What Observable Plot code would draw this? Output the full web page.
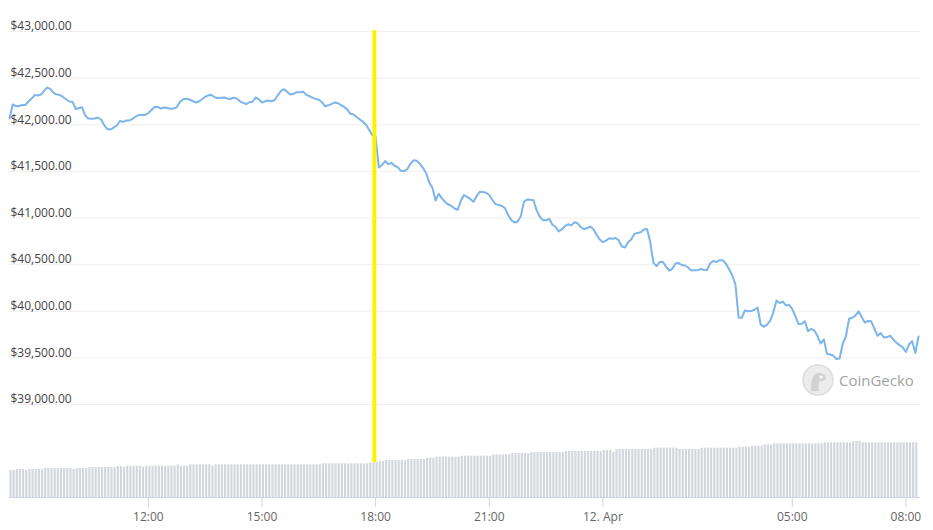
<!DOCTYPE html>
<html lang="en">
<head>
<meta charset="UTF-8">
<script src="https://cdn.jsdelivr.net/npm/d3@7"></script>
<script src="https://cdn.jsdelivr.net/npm/@observablehq/plot@0.6"></script>
<style>
  body { margin: 0; background: #fff; font-family: "Open Sans", sans-serif; }
  #chart { position: relative; width: 933px; height: 530px; overflow: hidden; }
  #chart svg { position: absolute; left: 0; top: 0; }
  #logo { position: absolute; left: 802px; top: 364px; display: flex; align-items: center; gap: 5px;
          font: 15px "Open Sans", sans-serif; color: #a3a3a3; }
</style>
</head>
<body>
<div id="chart"></div>
<script>
// 5-minute samples, 11 Apr 08:20 -> 12 Apr 08:20 (UTC used as display time)
const start = "2022-04-11T08:20Z";

const prices = [
  42067, 42217, 42201, 42201, 42212, 42212, 42249, 42281, 42319, 42314, 42324, 42367,
  42399, 42383, 42340, 42326, 42318, 42298, 42271, 42249, 42244, 42169, 42180, 42187,
  42099, 42067, 42064, 42067, 42078, 42056, 41997, 41954, 41949, 41970, 41992, 42040,
  42029, 42046, 42046, 42064, 42088, 42105, 42105, 42105, 42126, 42158, 42190, 42190,
  42174, 42185, 42180, 42171, 42174, 42190, 42244, 42274, 42278, 42271, 42255, 42239,
  42249, 42274, 42300, 42316, 42319, 42295, 42287, 42290, 42292, 42281, 42276, 42291,
  42281, 42251, 42235, 42222, 42242, 42247, 42294, 42273, 42239, 42251, 42259, 42251,
  42265, 42316, 42362, 42381, 42351, 42324, 42332, 42349, 42349, 42355, 42321, 42308,
  42291, 42277, 42268, 42244, 42198, 42209, 42221, 42239, 42233, 42210, 42192, 42165,
  42117, 42110, 42082, 42056, 42033, 41999, 41942, 41885, 41874, 41542, 41568, 41611,
  41576, 41592, 41560, 41545, 41506, 41502, 41523, 41579, 41619, 41615, 41582, 41538,
  41481, 41381, 41325, 41188, 41259, 41210, 41172, 41146, 41129, 41102, 41088, 41184,
  41246, 41227, 41205, 41175, 41234, 41282, 41280, 41271, 41246, 41193, 41149, 41140,
  41129, 41104, 41032, 40977, 40952, 40962, 41019, 41174, 41199, 41196, 41190, 41085,
  41013, 40977, 40976, 40991, 40928, 40906, 40856, 40877, 40914, 40933, 40921, 40955,
  40943, 40903, 40879, 40893, 40908, 40880, 40820, 40769, 40741, 40757, 40783, 40777,
  40786, 40761, 40695, 40683, 40740, 40772, 40830, 40840, 40847, 40876, 40883, 40743,
  40521, 40484, 40527, 40531, 40479, 40437, 40455, 40511, 40517, 40496, 40491, 40469,
  40437, 40441, 40441, 40453, 40445, 40442, 40514, 40539, 40529, 40548, 40547, 40509,
  40451, 40383, 40287, 39933, 39930, 40008, 40001, 40002, 40016, 40040, 39858, 39833,
  39856, 39897, 39986, 40115, 40088, 40104, 40063, 40068, 40024, 39946, 39863, 39865,
  39892, 39787, 39812, 39795, 39734, 39654, 39699, 39544, 39536, 39525, 39487, 39493,
  39654, 39729, 39920, 39930, 39953, 40000, 39938, 39879, 39896, 39894, 39815, 39736,
  39767, 39718, 39723, 39737, 39699, 39663, 39637, 39613, 39563, 39643, 39679, 39552,
  39729
];

// volume bars (billions, one per 5 minutes)
const volumes = [
  27, 27, 28, 28, 28, 27, 28, 28, 28, 28, 28, 29,
  29, 29, 29, 29, 29, 29, 29, 29, 28, 29, 29, 29,
  29, 30, 30, 30, 30, 30, 30, 30, 30, 30, 31, 31,
  30, 31.3, 31.3, 31.3, 31.3, 31.3, 30.3, 31.3, 31.3, 31.3, 31.3, 31.3,
  31.3, 31.3, 31.3, 31.3, 31.3, 32.7, 31.3, 31.3, 31.3, 32.7, 32.7, 32.7,
  32.7, 32.7, 32.7, 32.7, 31.3, 32.7, 32.7, 32.7, 32.7, 32.7, 32.7, 32.7,
  32.7, 32.7, 32.7, 32.7, 32.7, 32.7, 32.7, 32.7, 32.7, 32.7, 32.7, 32.7,
  32.7, 32.7, 32.7, 32.7, 32.7, 32.7, 32.7, 32.7, 32.7, 32.7, 32.7, 32.7,
  32.7, 32.7, 32.7, 33.7, 33.7, 33.7, 33.7, 33.7, 33.7, 33.7, 33.7, 33.7,
  33.7, 33.7, 33.7, 33.7, 33.7, 33.7, 34.7, 34.7, 34.7, 36, 36, 37,
  37, 37, 37, 37, 37, 37, 38, 38, 38, 38, 38, 38,
  39.3, 39.3, 39.3, 40.3, 40.3, 40.3, 40.3, 40.3, 40.3, 40.3, 40.3, 41.3,
  41.3, 41.3, 41.3, 41.3, 41.3, 41.3, 41.3, 41.3, 41.3, 42.7, 42.7, 42.7,
  42.7, 42.7, 42.7, 44, 44, 44, 44, 44, 44, 45, 45, 45,
  45, 45, 45, 45, 45, 45, 45, 45, 46, 46, 46, 46,
  46, 46, 46, 46, 46, 46, 46, 46, 47, 47, 47, 45,
  48, 48, 48, 48, 48, 48, 48, 48, 48, 48, 48, 48,
  49.3, 49.3, 49.3, 49.3, 49.3, 49.3, 49.3, 49.3, 48, 48, 48, 48,
  48, 48, 48, 49.3, 49.3, 49.3, 49.3, 49.3, 49.3, 49.3, 49.3, 49.3,
  49.3, 49.3, 49.3, 50.3, 50.3, 50.3, 50.3, 51.3, 51.3, 51.3, 51.3, 52.7,
  52.7, 52.7, 53.7, 53.7, 53.7, 53.7, 53.7, 53.7, 53.7, 53.7, 53.7, 53.7,
  53.7, 53.7, 53.7, 53.7, 53.7, 53.7, 54.7, 54.7, 54.7, 54.7, 54.7, 54.7,
  54.7, 54.7, 54.7, 56, 56, 56, 54.7, 54.7, 54.7, 54.7, 54.7, 54.7,
  54.7, 54.7, 54.7, 54.7, 54.7, 54.7, 54.7, 54.7, 54.7, 54.7, 54.7, 54.7
];

const priceTicks = [39000, 39500, 40000, 40500, 41000, 41500, 42000, 42500, 43000];
const timeTicks = ["2022-04-11T12:00Z", "2022-04-11T15:00Z", "2022-04-11T18:00Z", "2022-04-11T21:00Z",
                   "2022-04-12T00:00Z", "2022-04-12T05:00Z", "2022-04-12T08:00Z"];
const timeLabels = ["12:00", "15:00", "18:00", "21:00", "12. Apr", "05:00", "08:00"];
const marker = "2022-04-11T17:58Z";

const t0 = new Date(start);
const step = 5 * 60 * 1000;
const priceData = prices.map((p, i) => ({date: new Date(+t0 + i * step), price: p}));
const volData = volumes.map((v, i) => ({x1: new Date(+t0 + i * step), x2: new Date(+t0 + (i + 1) * step), v}));
const xDomain = [t0, new Date(+t0 + (prices.length - 1) * step)];
const tickDates = timeTicks.map(d => new Date(d));
const font = "'Open Sans', sans-serif";

const volPlot = Plot.plot({
  width: 933, height: 530,
  marginTop: 0, marginLeft: 9, marginRight: 13, marginBottom: 33,
  style: {fontFamily: font, fontSize: "12px", background: "transparent"},
  x: {type: "utc", domain: xDomain, range: [9, 918]},
  y: {domain: [0, 60], range: [497, 437], axis: null},
  marks: [
    Plot.rectY(volData, {x1: "x1", x2: "x2", y: "v", fill: "#d3d6dc", insetLeft: 0.4, insetRight: 0.6}),
    Plot.ruleY([0], {stroke: "#ccd6eb"}),
    Plot.axisX(tickDates, {
      tickSize: 10, tickPadding: 5, stroke: "#ccd6eb", fill: "#666",
      tickFormat: d => timeLabels[tickDates.findIndex(t => +t === +d)]
    })
  ]
});

const pricePlot = Plot.plot({
  width: 933, height: 462,
  marginTop: 30, marginBottom: 0, marginLeft: 9, marginRight: 13,
  style: {fontFamily: font, fontSize: "12px", background: "transparent"},
  x: {type: "utc", domain: xDomain, range: [9, 918], axis: null},
  y: {domain: [39000, 43000], range: [404, 31], axis: null},
  marks: [
    Plot.ruleY(priceTicks, {stroke: "#efefef"}),
    Plot.text(priceTicks, {
      y: d => d, frameAnchor: "left", textAnchor: "start", dx: 1, dy: -5,
      text: d => "$" + d3.format(",.2f")(d), fill: "#444"
    }),
    Plot.lineY(priceData, {x: "date", y: "price", stroke: "#7cb5ec", strokeWidth: 2}),
    Plot.ruleX([new Date(marker)], {stroke: "#fff200", strokeWidth: 4})
  ]
});

const chart = document.querySelector("#chart");
chart.append(volPlot, pricePlot);

const logo = document.createElement("div");
logo.id = "logo";
logo.innerHTML = `<svg width="32" height="32" viewBox="0 0 32 32" style="position:static">
  <circle cx="16" cy="16" r="15" fill="#ececec" stroke="#dcdcdc" stroke-width="1.5"/>
  <path d="M9 27 C9 18 10 10 16 9 C21 8.5 24 11 24 14 C24 16.5 21 17 19 17 C17 17 16 20 17 27 Z" fill="#d2d2d2"/>
  <circle cx="19" cy="13" r="1.6" fill="#fff"/>
</svg><span>CoinGecko</span>`;
chart.append(logo);
</script>
</body>
</html>
